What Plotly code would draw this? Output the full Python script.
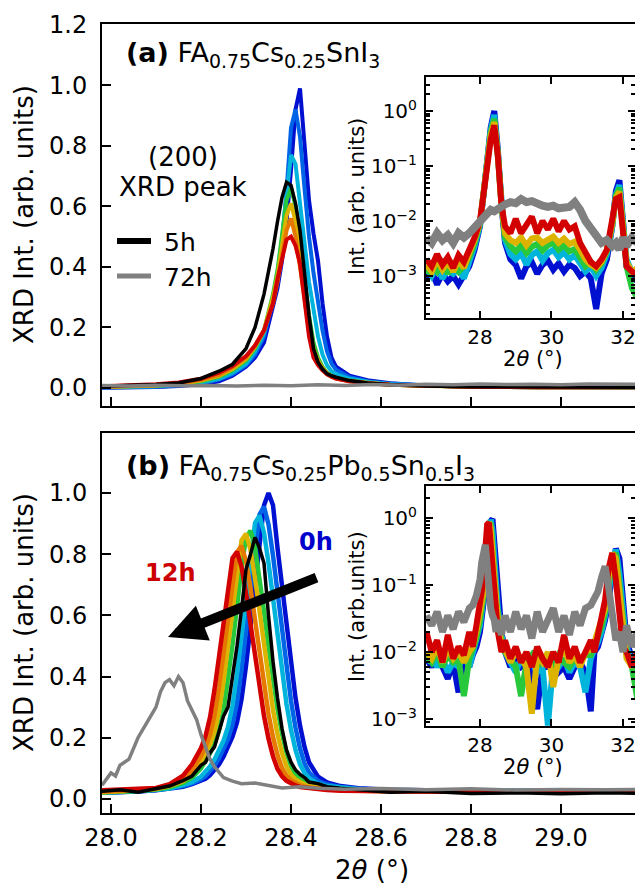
import plotly.graph_objects as go

# ---------------- data ----------------
TIMES = ["0h", "2h", "4h", "6h", "8h", "10h", "12h"]
COLORS = ["#0010d0", "#0064e6", "#00b4dc", "#28c83c", "#dcb400", "#e67800", "#d20000"]
GREY = "#808080"

# (a) main panel, FA0.75Cs0.25SnI3, (200) peak
XA = [27.98, 28.05, 28.10, 28.15, 28.20, 28.24, 28.27, 28.30, 28.32, 28.34, 28.36, 28.37,
      28.38, 28.39, 28.40, 28.41, 28.42, 28.43, 28.44, 28.45, 28.46, 28.47, 28.48, 28.49,
      28.50, 28.53, 28.57, 28.62, 28.70, 28.80, 28.95, 29.20]
A_0h = [0.0, 0.001, 0.003, 0.006, 0.012, 0.022, 0.04, 0.07, 0.10, 0.15, 0.27, 0.33, 0.42, 0.55, 0.72,
        0.92, 0.99, 0.80, 0.62, 0.51, 0.42, 0.28, 0.17, 0.10, 0.07, 0.04, 0.025, 0.015, 0.008, 0.004,
        0.002, 0.001]
A_2h = [0.001, 0.002, 0.004, 0.008, 0.015, 0.027, 0.045, 0.075, 0.11, 0.17, 0.29, 0.37, 0.48, 0.65,
        0.86, 0.92, 0.83, 0.66, 0.50, 0.38, 0.28, 0.19, 0.12, 0.08, 0.06, 0.035, 0.022, 0.014, 0.008,
        0.004, 0.002, 0.001]
A_4h = [0.002, 0.003, 0.005, 0.01, 0.018, 0.03, 0.05, 0.08, 0.12, 0.18, 0.30, 0.38, 0.49, 0.64, 0.77,
        0.74, 0.62, 0.48, 0.35, 0.25, 0.17, 0.11, 0.075, 0.055, 0.045, 0.03, 0.02, 0.012, 0.007, 0.004,
        0.002, 0.001]
A_6h = [0.003, 0.004, 0.007, 0.012, 0.022, 0.036, 0.058, 0.09, 0.13, 0.19, 0.31, 0.39, 0.50, 0.62,
        0.66, 0.60, 0.48, 0.35, 0.24, 0.15, 0.10, 0.07, 0.05, 0.04, 0.033, 0.024, 0.016, 0.01, 0.006,
        0.004, 0.002, 0.002]
A_8h = [0.003, 0.005, 0.008, 0.013, 0.024, 0.04, 0.062, 0.095, 0.135, 0.19, 0.30, 0.37, 0.47, 0.57,
        0.61, 0.55, 0.44, 0.32, 0.21, 0.13, 0.09, 0.065, 0.048, 0.038, 0.032, 0.023, 0.016, 0.01,
        0.006, 0.004, 0.002, 0.002]
A_10h = [0.004, 0.006, 0.009, 0.015, 0.027, 0.043, 0.068, 0.10, 0.14, 0.19, 0.28, 0.35, 0.44, 0.52,
         0.56, 0.50, 0.40, 0.29, 0.19, 0.12, 0.085, 0.062, 0.046, 0.037, 0.031, 0.022, 0.015, 0.01,
         0.006, 0.004, 0.002, 0.002]
A_12h = [0.005, 0.008, 0.012, 0.018, 0.03, 0.05, 0.072, 0.105, 0.14, 0.19, 0.28, 0.36, 0.43, 0.49,
         0.50, 0.47, 0.41, 0.29, 0.17, 0.10, 0.075, 0.058, 0.045, 0.037, 0.031, 0.022, 0.015, 0.01,
         0.006, 0.004, 0.002, 0.002]
A_5h = [0.005, 0.008, 0.011, 0.016, 0.031, 0.055, 0.078, 0.13, 0.20, 0.31, 0.46, 0.55, 0.63, 0.68,
        0.67, 0.61, 0.52, 0.38, 0.24, 0.13, 0.085, 0.062, 0.047, 0.04, 0.035, 0.024, 0.016, 0.01,
        0.006, 0.004, 0.003, 0.002]
XA_72 = [27.98, 28.04, 28.10, 28.16, 28.22, 28.28, 28.34, 28.40, 28.46, 28.52, 28.58, 28.64, 28.70,
         28.76, 28.82, 28.88, 28.94, 29.00, 29.06, 29.12, 29.20]
A_72h = [0.008, 0.006, 0.009, 0.007, 0.008, 0.006, 0.009, 0.007, 0.01, 0.008, 0.011, 0.009, 0.012,
         0.01, 0.013, 0.011, 0.012, 0.01, 0.013, 0.011, 0.012]

# (b) main panel, FA0.75Cs0.25Pb0.5Sn0.5I3
XB = [27.98, 28.02, 28.06, 28.10, 28.13, 28.16, 28.18, 28.20, 28.21, 28.22, 28.23, 28.24, 28.25,
      28.26, 28.27, 28.28, 28.29, 28.30, 28.31, 28.32, 28.33, 28.34, 28.35, 28.36, 28.37, 28.38,
      28.39, 28.40, 28.41, 28.42, 28.43, 28.44, 28.46, 28.48, 28.51, 28.55, 28.62, 28.70, 28.80,
      28.90, 29.00, 29.10, 29.20]
B_0h = [0.02, 0.021, 0.024, 0.028, 0.033, 0.04, 0.048, 0.059, 0.066, 0.078, 0.093, 0.113, 0.138,
        0.168, 0.203, 0.25, 0.325, 0.435, 0.565, 0.705, 0.85, 0.96, 1.0, 0.96, 0.82, 0.69, 0.56,
        0.44, 0.33, 0.24, 0.17, 0.12, 0.073, 0.054, 0.042, 0.035, 0.03, 0.028, 0.026, 0.025, 0.025,
        0.024, 0.025]
B_2h = [0.02, 0.021, 0.025, 0.029, 0.034, 0.042, 0.051, 0.064, 0.075, 0.09, 0.109, 0.133, 0.162,
        0.196, 0.243, 0.315, 0.422, 0.548, 0.684, 0.824, 0.93, 0.955, 0.897, 0.795, 0.669, 0.543,
        0.427, 0.32, 0.233, 0.165, 0.116, 0.087, 0.059, 0.047, 0.039, 0.033, 0.029, 0.027, 0.026,
        0.027, 0.025, 0.026, 0.025]
B_4h = [0.021, 0.022, 0.025, 0.03, 0.034, 0.045, 0.055, 0.073, 0.087, 0.106, 0.129, 0.157, 0.19,
        0.235, 0.305, 0.409, 0.531, 0.663, 0.799, 0.902, 0.926, 0.87, 0.771, 0.649, 0.526, 0.414,
        0.31, 0.226, 0.16, 0.113, 0.085, 0.068, 0.05, 0.042, 0.037, 0.032, 0.029, 0.027, 0.027,
        0.026, 0.027, 0.026, 0.026]
B_6h = [0.021, 0.023, 0.026, 0.031, 0.038, 0.052, 0.069, 0.1, 0.122, 0.149, 0.18, 0.223, 0.289,
        0.387, 0.503, 0.627, 0.757, 0.854, 0.877, 0.823, 0.73, 0.614, 0.498, 0.392, 0.294, 0.214,
        0.151, 0.107, 0.08, 0.065, 0.054, 0.048, 0.04, 0.036, 0.032, 0.028, 0.027, 0.026, 0.025,
        0.026, 0.025, 0.026, 0.025]
B_8h = [0.022, 0.024, 0.028, 0.032, 0.042, 0.058, 0.081, 0.121, 0.147, 0.178, 0.22, 0.286, 0.383,
        0.497, 0.62, 0.748, 0.845, 0.867, 0.814, 0.722, 0.607, 0.493, 0.387, 0.29, 0.211, 0.15,
        0.106, 0.079, 0.064, 0.054, 0.047, 0.042, 0.037, 0.034, 0.03, 0.027, 0.026, 0.025, 0.026,
        0.024, 0.025, 0.024, 0.025]
B_10h = [0.024, 0.026, 0.029, 0.034, 0.045, 0.065, 0.094, 0.141, 0.17, 0.21, 0.273, 0.365, 0.475,
         0.592, 0.714, 0.806, 0.827, 0.777, 0.689, 0.58, 0.47, 0.37, 0.277, 0.202, 0.143, 0.101,
         0.076, 0.061, 0.051, 0.045, 0.04, 0.037, 0.034, 0.031, 0.028, 0.027, 0.025, 0.026, 0.024,
         0.025, 0.024, 0.025, 0.024]
B_12h = [0.028, 0.03, 0.032, 0.036, 0.048, 0.076, 0.113, 0.166, 0.205, 0.267, 0.357, 0.463, 0.578,
         0.697, 0.787, 0.808, 0.759, 0.672, 0.566, 0.459, 0.361, 0.271, 0.197, 0.139, 0.098, 0.074,
         0.059, 0.05, 0.044, 0.039, 0.037, 0.034, 0.031, 0.029, 0.027, 0.026, 0.024, 0.025, 0.023,
         0.024, 0.023, 0.024, 0.023]
B_5h = [0.025, 0.03, 0.022, 0.035, 0.042, 0.06, 0.075, 0.11, 0.12, 0.15, 0.17, 0.22, 0.27, 0.3, 0.4,
        0.5, 0.62, 0.75, 0.80, 0.855, 0.82, 0.77, 0.60, 0.45, 0.33, 0.23, 0.16, 0.12, 0.095, 0.08,
        0.07, 0.055, 0.05, 0.04, 0.035, 0.03, 0.022, 0.025, 0.018, 0.02, 0.017, 0.02, 0.018]
XB_72 = [27.98, 28.00, 28.01, 28.02, 28.04, 28.06, 28.08, 28.10, 28.11, 28.12, 28.13, 28.14, 28.15,
         28.16, 28.17, 28.19, 28.20, 28.21, 28.22, 28.23, 28.25, 28.27, 28.29, 28.32, 28.35, 28.38,
         28.42, 28.46, 28.52, 28.6, 28.7, 28.8, 28.9, 29.0, 29.1, 29.2]
B_72h = [0.045, 0.085, 0.075, 0.11, 0.13, 0.2, 0.25, 0.30, 0.35, 0.38, 0.39, 0.37, 0.40, 0.38, 0.32,
         0.26, 0.21, 0.17, 0.13, 0.105, 0.07, 0.058, 0.05, 0.052, 0.045, 0.036, 0.04, 0.035, 0.032,
         0.034, 0.03, 0.033, 0.029, 0.031, 0.03, 0.031]

# insets (log scale), wide 2theta range
INSET_TIMES = ["0h", "4h", "6h", "8h", "12h"]
INSET_COLORS = [COLORS[0], COLORS[2], COLORS[3], COLORS[4], COLORS[6]]
XI_A = [26.5, 26.65, 26.8, 26.95, 27.1, 27.25, 27.4, 27.55, 27.7, 27.85, 28.0, 28.1, 28.2, 28.3,
        28.4, 28.5, 28.6, 28.7, 28.85, 29.0, 29.15, 29.3, 29.45, 29.6, 29.75, 29.9, 30.05, 30.2,
        30.35, 30.5, 30.65, 30.8, 30.95, 31.1, 31.25, 31.4, 31.55, 31.7, 31.8, 31.9, 32.0, 32.1,
        32.25, 32.4]
IA_0h = [9e-4, 1.2e-3, 7e-4, 1.1e-3, 8e-4, 1.0e-3, 7e-4, 1.1e-3, 1.5e-3, 3e-3, 8e-3, 0.03, 0.12, 0.5,
         1.0, 0.2, 0.02, 4e-3, 2e-3, 1.6e-3, 9e-4, 1.5e-3, 1.8e-3, 1.1e-3, 1.6e-3, 1.9e-3, 1.3e-3,
         1.7e-3, 1.2e-3, 1.6e-3, 1.4e-3, 1.0e-3, 1.2e-3, 9e-4, 2.5e-4, 1.1e-3, 2e-3, 8e-3, 0.035,
         0.055, 0.01, 1.5e-3, 1.0e-3, 8e-4]
IA_4h = [1.4e-3, 1.0e-3, 1.5e-3, 9e-4, 1.3e-3, 1.1e-3, 1.4e-3, 9e-4, 1.8e-3, 3.5e-3, 8.5e-3, 0.03,
         0.11, 0.45, 0.85, 0.18, 0.02, 4.5e-3, 2.5e-3, 2e-3, 2.6e-3, 1.6e-3, 2.4e-3, 2.8e-3, 1.9e-3,
         2.6e-3, 3e-3, 2.2e-3, 2.7e-3, 2e-3, 2.4e-3, 1.6e-3, 1.2e-3, 1.5e-3, 1.0e-3, 1.4e-3, 2.5e-3,
         8e-3, 0.03, 0.045, 9e-3, 2e-3, 1.2e-3, 1.0e-3]
IA_6h = [1.1e-3, 1.6e-3, 1.2e-3, 1.7e-3, 1.1e-3, 1.6e-3, 1.2e-3, 1.5e-3, 2.2e-3, 4e-3, 9e-3, 0.03, 0.1,
         0.4, 0.72, 0.17, 0.02, 5e-3, 3.5e-3, 2.8e-3, 3.6e-3, 2.6e-3, 3.4e-3, 3.8e-3, 2.9e-3, 3.6e-3,
         4e-3, 3e-3, 3.6e-3, 2.8e-3, 3.1e-3, 2.2e-3, 1.5e-3, 1.8e-3, 1.3e-3, 1.7e-3, 2.8e-3, 8.5e-3,
         0.028, 0.04, 8e-3, 1.5e-3, 6e-4, 4e-4]
IA_8h = [1.6e-3, 1.2e-3, 2e-3, 1.3e-3, 1.8e-3, 1.2e-3, 1.9e-3, 1.4e-3, 2.6e-3, 4.5e-3, 9.5e-3, 0.03,
         0.095, 0.36, 0.63, 0.16, 0.02, 6e-3, 4.5e-3, 4e-3, 5e-3, 3.6e-3, 4.8e-3, 5e-3, 4e-3, 4.6e-3,
         5.2e-3, 4e-3, 4.8e-3, 3.8e-3, 4.2e-3, 3e-3, 2e-3, 1.6e-3, 1.4e-3, 1.8e-3, 3e-3, 9e-3, 0.026,
         0.034, 7e-3, 1.8e-3, 1.2e-3, 1.4e-3]
IA_12h = [2e-3, 1.5e-3, 2.5e-3, 1.6e-3, 2.2e-3, 1.4e-3, 2.4e-3, 1.8e-3, 3e-3, 5e-3, 0.01, 0.03, 0.09,
          0.3, 0.55, 0.15, 0.02, 8e-3, 6e-3, 1.1e-2, 6e-3, 9e-3, 1.2e-2, 6e-3, 1.0e-2, 7e-3, 1.1e-2,
          6.5e-3, 1.0e-2, 7e-3, 8e-3, 4e-3, 2.5e-3, 1.8e-3, 1.5e-3, 2e-3, 3e-3, 0.01, 0.025, 0.027,
          6e-3, 1.5e-3, 1.2e-3, 1.0e-3]
IA_72h = [5e-3, 4e-3, 6e-3, 4.5e-3, 5.5e-3, 4e-3, 6e-3, 5e-3, 6e-3, 7.5e-3, 0.01, 0.012, 0.014, 0.016,
          0.015, 0.017, 0.018, 0.02, 0.022, 0.021, 0.025, 0.022, 0.023, 0.02, 0.019, 0.018, 0.019,
          0.017, 0.018, 0.018, 0.022, 0.016, 0.01, 7e-3, 5.5e-3, 4e-3, 4.5e-3, 3.5e-3, 4e-3, 3e-3,
          5e-3, 3.5e-3, 5e-3, 4e-3]

XI_B = [26.5, 26.65, 26.8, 26.95, 27.1, 27.25, 27.4, 27.55, 27.7, 27.8, 27.9, 28.0, 28.05, 28.1,
        28.15, 28.2, 28.25, 28.3, 28.35, 28.4, 28.45, 28.5, 28.6, 28.7, 28.85, 29.0, 29.15, 29.3,
        29.45, 29.6, 29.75, 29.9, 30.05, 30.2, 30.35, 30.5, 30.65, 30.8, 30.95, 31.1, 31.2, 31.3,
        31.4, 31.5, 31.6, 31.7, 31.8, 31.9, 32.0, 32.1, 32.25, 32.4]
IB_0h = [8e-3, 6e-3, 9e-3, 6e-3, 4e-3, 7e-3, 2.5e-3, 8e-3, 6e-3, 9e-3, 0.012, 0.02, 0.03, 0.05, 0.09,
         0.2, 0.45, 0.9, 0.97, 0.45, 0.15, 0.06, 0.02, 0.01, 6e-3, 8e-3, 6e-3, 7e-3, 5e-3, 1.4e-3,
         6e-3, 6e-3, 7e-3, 5e-3, 6e-3, 4e-3, 6e-3, 7e-3, 5e-3, 1.3e-3, 0.01, 0.012, 0.018, 0.03, 0.06,
         0.15, 0.35, 0.25, 0.06, 0.015, 8e-3, 6e-3]
IB_4h = [7e-3, 9e-3, 6e-3, 8e-3, 5e-3, 7e-3, 6e-3, 9e-3, 6e-3, 0.01, 0.014, 0.025, 0.04, 0.06, 0.12,
         0.3, 0.7, 0.95, 0.65, 0.25, 0.09, 0.045, 0.018, 0.01, 7e-3, 5e-3, 8e-3, 6e-3, 7e-3, 5e-3,
         6e-3, 8e-4, 7e-3, 6e-3, 8e-3, 5e-3, 7e-3, 6e-3, 2.5e-3, 8e-3, 0.011, 0.014, 0.02, 0.035,
         0.08, 0.2, 0.34, 0.15, 0.035, 0.012, 7e-3, 5e-3]
IB_6h = [9e-3, 7e-3, 0.01, 6e-3, 9e-3, 7e-3, 8e-3, 2.2e-3, 8e-3, 0.011, 0.016, 0.03, 0.045, 0.07, 0.15,
         0.38, 0.8, 0.85, 0.45, 0.15, 0.06, 0.035, 0.015, 0.01, 8e-3, 6e-3, 2.2e-3, 7e-3, 9e-3, 6e-3,
         8e-3, 7e-3, 6e-3, 9e-3, 7e-3, 6e-3, 8e-3, 7e-3, 9e-3, 9e-3, 0.012, 0.016, 0.024, 0.04, 0.1,
         0.26, 0.3, 0.1, 0.025, 0.01, 6e-3, 2e-3]
IB_8h = [0.01, 8e-3, 0.012, 7e-3, 0.011, 8e-3, 0.01, 7e-3, 0.01, 0.012, 0.02, 0.035, 0.055, 0.08, 0.2,
         0.5, 0.87, 0.7, 0.3, 0.1, 0.045, 0.03, 0.013, 0.011, 7e-3, 0.01, 8e-3, 6e-3, 1.2e-3, 9e-3,
         7e-3, 0.01, 3e-3, 8e-3, 0.011, 7e-3, 9e-3, 6e-3, 0.01, 0.011, 0.014, 0.02, 0.03, 0.045, 0.13,
         0.3, 0.25, 0.07, 0.02, 8e-3, 6e-3, 9e-3]
IB_12h = [0.02, 0.01, 0.015, 0.007, 0.018, 0.008, 0.012, 0.009, 0.02, 0.012, 0.025, 0.05, 0.08, 0.15,
          0.35, 0.8, 0.85, 0.4, 0.15, 0.06, 0.035, 0.02, 0.01, 0.015, 0.008, 0.012, 0.007, 0.01,
          0.006, 0.012, 0.008, 0.006, 0.01, 0.007, 0.018, 0.008, 0.012, 0.007, 0.01, 0.015, 0.01,
          0.02, 0.03, 0.06, 0.18, 0.3, 0.12, 0.035, 0.012, 0.01, 0.006, 0.01]
IB_72h = [0.035, 0.025, 0.04, 0.02, 0.035, 0.022, 0.04, 0.028, 0.045, 0.05, 0.07, 0.12, 0.22, 0.38,
          0.4, 0.2, 0.08, 0.045, 0.035, 0.03, 0.02, 0.03, 0.018, 0.035, 0.02, 0.04, 0.022, 0.035,
          0.016, 0.04, 0.02, 0.03, 0.045, 0.02, 0.035, 0.018, 0.04, 0.025, 0.045, 0.05, 0.06, 0.08,
          0.13, 0.19, 0.09, 0.03, 0.015, 0.02, 0.01, 0.025, 0.012, 0.02]

MAIN_YTICKS = [0.0, 0.2, 0.4, 0.6, 0.8, 1.0, 1.2]
MAIN_XTICKS = [28.0, 28.2, 28.4, 28.6, 28.8, 29.0]
INSET_XTICKS = [28, 30, 32]
INSET_YTICKS = [1e-3, 1e-2, 1e-1, 1.0]
INSET_YTEXT = ["10<sup>\u22123</sup>", "10<sup>\u22122</sup>", "10<sup>\u22121</sup>", "10<sup>0</sup>"]

# ---------------- figure ----------------
W, H = 635, 885
FONT = "DejaVu Sans"


def px(x):
    return x / W


def py(y):
    return 1 - y / H


fig = go.Figure()

A_SERIES = [A_0h, A_2h, A_4h, A_6h, A_8h, A_10h, A_12h]
B_SERIES = [B_0h, B_2h, B_4h, B_6h, B_8h, B_10h, B_12h]
IA_SERIES = [IA_0h, IA_4h, IA_6h, IA_8h, IA_12h]
IB_SERIES = [IB_0h, IB_4h, IB_6h, IB_8h, IB_12h]

for name, col, ys in zip(TIMES, COLORS, A_SERIES):
    fig.add_trace(go.Scatter(x=XA, y=ys, mode="lines", name=name, xaxis="x", yaxis="y",
                             line=dict(color=col, width=4)))
fig.add_trace(go.Scatter(x=XA, y=A_5h, mode="lines", name="5h", xaxis="x", yaxis="y",
                         line=dict(color="black", width=3.5)))
fig.add_trace(go.Scatter(x=XA_72, y=A_72h, mode="lines", name="72h", xaxis="x", yaxis="y",
                         line=dict(color=GREY, width=3.5)))

for name, col, ys in zip(TIMES, COLORS, B_SERIES):
    fig.add_trace(go.Scatter(x=XB, y=ys, mode="lines", name=name, xaxis="x2", yaxis="y2",
                             line=dict(color=col, width=4.5)))
fig.add_trace(go.Scatter(x=XB, y=B_5h, mode="lines", name="5h", xaxis="x2", yaxis="y2",
                         line=dict(color="black", width=3.5)))
fig.add_trace(go.Scatter(x=XB_72, y=B_72h, mode="lines", name="72h", xaxis="x2", yaxis="y2",
                         line=dict(color=GREY, width=3.5)))

for name, col, ys in zip(INSET_TIMES, INSET_COLORS, IA_SERIES):
    fig.add_trace(go.Scatter(x=XI_A, y=ys, mode="lines", name=name, xaxis="x3", yaxis="y3",
                             line=dict(color=col, width=6)))
fig.add_trace(go.Scatter(x=XI_A, y=IA_72h, mode="lines", name="72h", xaxis="x3", yaxis="y3",
                         line=dict(color=GREY, width=8)))

for name, col, ys in zip(INSET_TIMES, INSET_COLORS, IB_SERIES):
    fig.add_trace(go.Scatter(x=XI_B, y=ys, mode="lines", name=name, xaxis="x4", yaxis="y4",
                             line=dict(color=col, width=6)))
fig.add_trace(go.Scatter(x=XI_B, y=IB_72h, mode="lines", name="72h", xaxis="x4", yaxis="y4",
                         line=dict(color=GREY, width=7)))

ax_common = dict(showline=True, linecolor="black", linewidth=2, ticks="inside", tickcolor="black",
                 tickwidth=2, showgrid=False, zeroline=False, automargin=False,
                 ticklabeloverflow="allow")
main_x = dict(ax_common, range=[27.98, 29.1644], mirror=True, ticklen=9,
              tickvals=MAIN_XTICKS, ticktext=[f"{v:.1f}" for v in MAIN_XTICKS],
              tickfont=dict(size=24, family=FONT))
main_y = dict(ax_common, ticklen=9, tickvals=MAIN_YTICKS,
              ticktext=[f"{v:.1f}" for v in MAIN_YTICKS],
              tickfont=dict(size=24, family=FONT), ticklabelstandoff=8)
inset_x = dict(ax_common, range=[26.49, 32.336], mirror="allticks", ticklen=7,
               tickvals=INSET_XTICKS, ticktext=[str(v) for v in INSET_XTICKS],
               tickfont=dict(size=20, family=FONT), ticklabelstandoff=0)
inset_y = dict(ax_common, type="log", mirror="ticks", ticklen=7, tickvals=INSET_YTICKS,
               ticktext=INSET_YTEXT, tickfont=dict(size=20, family=FONT), ticklabelstandoff=3,
               minor=dict(ticks="inside", ticklen=4, tickwidth=1.5, tickcolor="black", dtick="D1",
                          showgrid=False))

fig.update_layout(
    width=W, height=H, margin=dict(l=0, r=0, t=0, b=0, pad=0, autoexpand=False),
    paper_bgcolor="white", plot_bgcolor="white", showlegend=False,
    font=dict(family=FONT, color="black"),
    xaxis=dict(main_x, domain=[px(102), 1], anchor="y", showticklabels=False),
    yaxis=dict(main_y, domain=[py(406), py(24)], range=[-0.06, 1.203], anchor="x"),
    xaxis2=dict(main_x, domain=[px(102), 1], anchor="y2", ticklabelstandoff=2),
    yaxis2=dict(main_y, domain=[py(813), py(433)], range=[-0.046, 1.196], anchor="x2"),
    xaxis3=dict(inset_x, domain=[px(426), 1], anchor="y3"),
    yaxis3=dict(inset_y, domain=[py(318), py(77)], range=[-3.764, 0.618], anchor="x3"),
    xaxis4=dict(inset_x, domain=[px(426), 1], anchor="y4"),
    yaxis4=dict(inset_y, domain=[py(726), py(486)], range=[-3.104, 0.478], anchor="x4"),
)


def note(text, x, y, size, xanchor="center", yanchor="middle", angle=0, color="black"):
    fig.add_annotation(text=text, x=px(x), y=py(y), xref="paper", yref="paper",
                       xanchor=xanchor, yanchor=yanchor, showarrow=False, textangle=angle,
                       font=dict(family=FONT, size=size, color=color))


YTITLE = "XRD Int. (arb. units)"
note(YTITLE, 24, 215, 26, angle=-90)
note(YTITLE, 24, 623, 26, angle=-90)
note("2<i>\u03b8</i> (\u00b0)", 372, 870, 26)

note("<b>(a)</b> FA<sub>0.75</sub>Cs<sub>0.25</sub>SnI<sub>3</sub>", 124, 55, 27, xanchor="left")
note("<b>(b)</b> FA<sub>0.75</sub>Cs<sub>0.25</sub>Pb<sub>0.5</sub>Sn<sub>0.5</sub>I<sub>3</sub>",
     124, 467, 27, xanchor="left")

note("(200)", 183, 157, 26)
note("XRD peak", 183, 187, 26)

# legend keys for 5h / 72h
fig.add_shape(type="line", xref="paper", yref="paper", x0=px(117), x1=px(151), y0=py(241), y1=py(241),
              line=dict(color="black", width=6))
fig.add_shape(type="line", xref="paper", yref="paper", x0=px(117), x1=px(151), y0=py(276), y1=py(276),
              line=dict(color=GREY, width=5))
note("5h", 162, 242, 25, xanchor="left")
note("72h", 162, 277, 25, xanchor="left")

# inset labels
note("Int. (arb. units)", 357, 197, 21, angle=-90)
note("2<i>\u03b8</i> (\u00b0)", 533, 359, 21)
note("Int. (arb.units)", 357, 607, 21, angle=-90)
note("2<i>\u03b8</i> (\u00b0)", 533, 767, 21)

# time labels and arrow in (b)
note("<b>0h</b>", 297, 542, 24, xanchor="left", color="#0000cc")
note("<b>12h</b>", 143, 573, 24, xanchor="left", color="#cc0000")
fig.add_annotation(x=px(168), y=py(637), xref="paper", yref="paper", ax=150, ay=-60,
                   axref="pixel", ayref="pixel", text="", showarrow=True, arrowhead=2,
                   arrowsize=0.75, arrowwidth=10, arrowcolor="black", standoff=0)

fig.write_html("out.html")
